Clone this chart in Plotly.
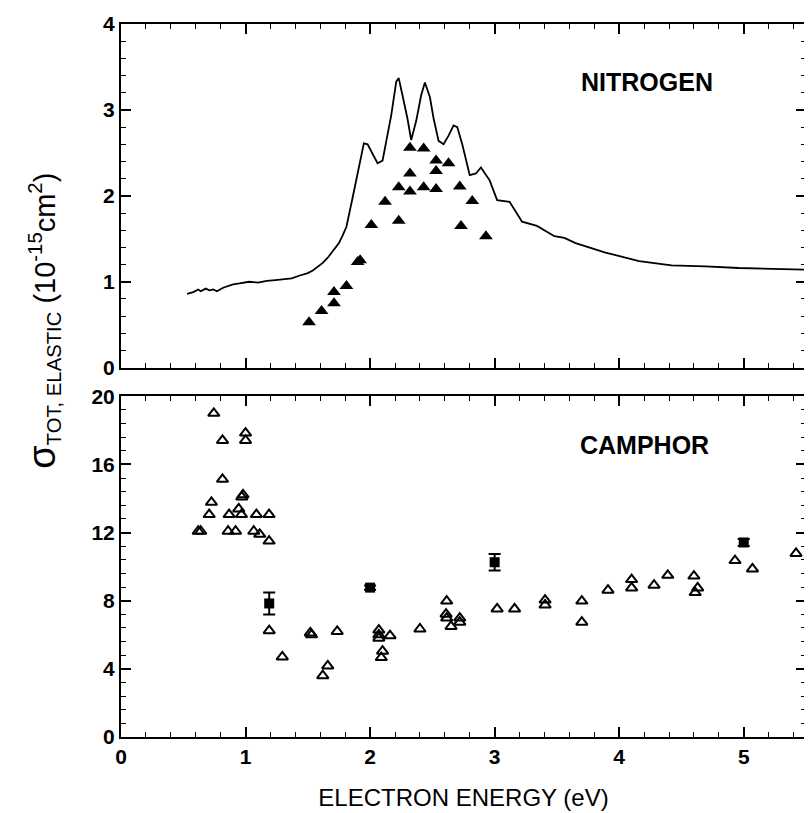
import plotly.graph_objects as go

# ---------------- data ----------------
# Nitrogen: total cross section curve (10^-15 cm^2)
n2_line_x = [0.53, 0.58, 0.62, 0.64, 0.68, 0.71, 0.74, 0.77, 0.82, 0.86, 0.90, 0.95, 1.03, 1.10, 1.17, 1.24,
             1.30, 1.37, 1.43, 1.50, 1.54, 1.62, 1.66, 1.70, 1.75, 1.78, 1.81, 1.86, 1.91, 1.95, 1.98,
             2.02, 2.06, 2.10, 2.13, 2.17, 2.21, 2.23, 2.26, 2.30, 2.33, 2.37, 2.41, 2.44, 2.48,
             2.51, 2.55, 2.59, 2.63, 2.67, 2.70, 2.74, 2.80, 2.85, 2.89, 2.96, 3.02, 3.12, 3.22,
             3.34, 3.48, 3.56, 3.65, 3.89, 4.16, 4.42, 4.69, 4.96, 5.23, 5.49]
n2_line_y = [0.86, 0.88, 0.91, 0.89, 0.92, 0.90, 0.91, 0.89, 0.93, 0.95, 0.97, 0.98, 1.00, 0.99, 1.01, 1.02,
             1.03, 1.04, 1.07, 1.10, 1.13, 1.22, 1.28, 1.35, 1.45, 1.54, 1.64, 1.98, 2.33, 2.61, 2.60,
             2.48, 2.38, 2.41, 2.64, 2.94, 3.33, 3.37, 3.17, 2.90, 2.65, 2.87, 3.17, 3.32, 3.15,
             2.90, 2.64, 2.60, 2.70, 2.82, 2.80, 2.60, 2.24, 2.26, 2.33, 2.18, 1.95, 1.93, 1.70,
             1.65, 1.53, 1.51, 1.45, 1.34, 1.24, 1.19, 1.18, 1.16, 1.15, 1.14]

# Nitrogen: measured points (filled triangles)
n2_pts_x = [1.51, 1.61, 1.71, 1.71, 1.81, 1.90, 1.92, 2.01, 2.12, 2.23, 2.23, 2.32, 2.32, 2.32,
            2.43, 2.43, 2.53, 2.53, 2.53, 2.63, 2.72, 2.73, 2.82, 2.93]
n2_pts_y = [0.53, 0.66, 0.75, 0.88, 0.95, 1.23, 1.25, 1.66, 1.93, 2.10, 1.71, 2.56, 2.26, 2.05,
            2.55, 2.10, 2.41, 2.29, 2.08, 2.38, 2.11, 1.65, 1.94, 1.53]

# Camphor: open triangles
cam_tri_x = [0.62, 0.64, 0.708, 0.726, 0.745, 0.815, 0.815, 0.86, 0.868, 0.92, 0.945, 0.967, 0.97,
             0.98, 1.0, 1.0, 1.066, 1.087, 1.114, 1.189, 1.189, 1.19, 1.295, 1.52, 1.53, 1.62, 1.66,
             1.736, 2.07, 2.07, 2.07, 2.09, 2.10, 2.16, 2.40, 2.615, 2.61, 2.615, 2.65, 2.72, 2.72,
             3.02, 3.16, 3.405, 3.405, 3.70, 3.70, 3.91, 4.10, 4.10, 4.28, 4.39, 4.60, 4.61, 4.63,
             4.93, 5.07, 5.42]
cam_tri_y = [12.08, 12.08, 13.06, 13.78, 19.0, 17.41, 15.13, 12.08, 13.06, 12.08, 13.39, 13.06, 14.09,
             14.22, 17.84, 17.41, 12.08, 13.06, 11.90, 13.06, 11.50, 6.24, 4.70, 6.11, 6.0, 3.6, 4.17,
             6.20, 6.28, 6.0, 5.80, 4.66, 5.04, 5.95, 6.34, 7.98, 7.21, 6.98, 6.49, 6.98, 6.74,
             7.52, 7.52, 8.04, 7.75, 7.98, 6.74, 8.62, 9.24, 8.75, 8.91, 9.49, 9.45, 8.48, 8.75,
             10.36, 9.87, 10.78]

# Camphor: filled squares with error bars
cam_sq_x = [1.19, 2.0, 3.0, 5.0]
cam_sq_y = [7.84, 8.77, 10.26, 11.42]
cam_sq_err = [0.65, 0.12, 0.48, 0.2]

x_ticks = [0, 1, 2, 3, 4, 5]
top_y_ticks = [0, 1, 2, 3, 4]
bot_y_ticks = [0, 4, 8, 12, 16, 20]

# ---------------- figure ----------------
FONT = "Liberation Sans, Arial, sans-serif"
fig = go.Figure()

fig.add_trace(go.Scatter(x=n2_line_x, y=n2_line_y, mode="lines",
                         line=dict(color="black", width=1.8), xaxis="x", yaxis="y",
                         showlegend=False))
fig.add_trace(go.Scatter(x=n2_pts_x, y=n2_pts_y, mode="markers",
                         marker=dict(symbol="triangle-up", size=12, color="black"),
                         xaxis="x", yaxis="y", showlegend=False))
fig.add_trace(go.Scatter(x=cam_tri_x, y=cam_tri_y, mode="markers",
                         marker=dict(symbol="triangle-up-open", size=10, color="black",
                                     line=dict(width=2, color="black")),
                         xaxis="x2", yaxis="y2", showlegend=False))
fig.add_trace(go.Scatter(x=cam_sq_x, y=cam_sq_y, mode="markers",
                         marker=dict(symbol="square", size=10, color="black"),
                         error_y=dict(type="data", array=cam_sq_err, color="black",
                                      thickness=2, width=6),
                         xaxis="x2", yaxis="y2", showlegend=False))

tickfont = dict(family=FONT, size=21, color="black", weight="bold")
common_x = dict(range=[0, 5.5], tickvals=x_ticks, ticks="inside", ticklen=10, tickwidth=1.5,
                tickcolor="black", showline=True, linecolor="black", linewidth=2,
                mirror="allticks", showgrid=False, zeroline=False,
                minor=dict(dtick=0.2, ticks="inside", ticklen=5, tickwidth=1.2,
                           tickcolor="black", showgrid=False))
common_y = dict(ticks="inside", ticklen=10, tickwidth=1.5, tickcolor="black",
                showline=True, linecolor="black", linewidth=2, mirror="allticks",
                showgrid=False, zeroline=False, tickfont=tickfont)

fig.update_layout(
    width=804, height=805,
    margin=dict(l=113, r=4, t=7, b=76),
    paper_bgcolor="white", plot_bgcolor="white",
    xaxis=dict(common_x, anchor="y", showticklabels=False, domain=[0, 1]),
    yaxis=dict(common_y, range=[0, 4], tickvals=top_y_ticks, domain=[0.518, 1],
               minor=dict(dtick=0.2, ticks="inside", ticklen=5, tickwidth=1.2,
                          tickcolor="black", showgrid=False)),
    xaxis2=dict(common_x, anchor="y2", showticklabels=True, tickfont=tickfont,
                domain=[0, 1],
                title=dict(text="ELECTRON ENERGY (eV)",
                           font=dict(family=FONT, size=24, color="black"), standoff=22)),
    yaxis2=dict(common_y, range=[0, 20], tickvals=bot_y_ticks, domain=[0, 0.4778],
                anchor="x2",
                minor=dict(dtick=0.8, ticks="inside", ticklen=5, tickwidth=1.2,
                           tickcolor="black", showgrid=False)),
    annotations=[
        dict(text="NITROGEN", x=4.22, y=3.33, xref="x", yref="y", showarrow=False,
             xanchor="center", yanchor="middle",
             font=dict(family=FONT, size=25, color="black", weight="bold")),
        dict(text="CAMPHOR", x=4.2, y=17.15, xref="x2", yref="y2", showarrow=False,
             xanchor="center", yanchor="middle",
             font=dict(family=FONT, size=25, color="black", weight="bold")),
        dict(text="<span style='font-size:38px'>σ</span><sub>TOT, ELASTIC</sub> (10<sup>-15</sup>cm<sup>2</sup>)",
             x=-0.115, y=0.584, xref="paper", yref="paper", showarrow=False,
             textangle=-90, xanchor="center", yanchor="middle",
             font=dict(family=FONT, size=29, color="black")),
    ],
)

fig.write_html("out.html")
